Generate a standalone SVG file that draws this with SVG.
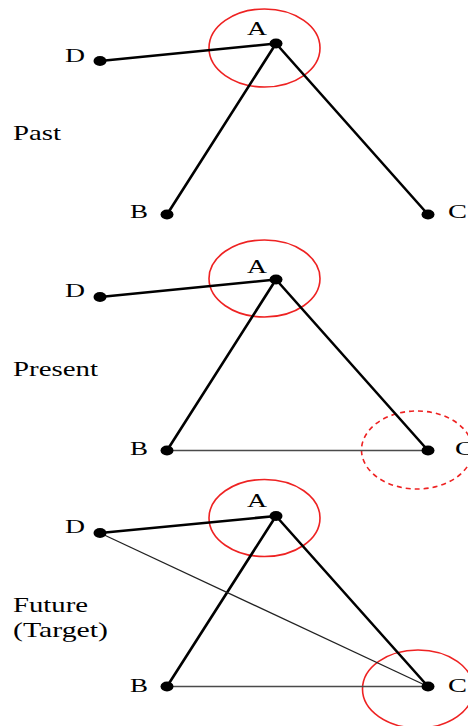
<svg xmlns="http://www.w3.org/2000/svg" width="468" height="726" viewBox="0 0 468 726">
<style>
text{font-family:"Liberation Serif","Times New Roman",serif;fill:#000}
.lbl{font-size:18px}
.side{font-size:21px}
.dot{fill:#000}
.thick{stroke:#000;stroke-width:2.6;fill:none;stroke-linecap:round}
.thin{stroke:#4a4a4a;stroke-width:1.6;fill:none}
.dc{stroke:#222;stroke-width:1.3;fill:none}
.ring{fill:none;stroke:#ee2222;stroke-width:1.6}
.dash{stroke-dasharray:5 4}
</style>
<rect width="468" height="726" fill="#fff"/>
<g id="rings">
<ellipse class="ring" cx="264.5" cy="48" rx="55.5" ry="39"/>
<ellipse class="ring" cx="264.5" cy="278.5" rx="55.5" ry="38.5"/>
<ellipse class="ring dash" cx="417" cy="450" rx="55.5" ry="39"/>
<ellipse class="ring" cx="264.5" cy="518" rx="55.5" ry="38.5"/>
<ellipse class="ring" cx="418" cy="689" rx="55.5" ry="39"/>
</g>
<g id="connectors">
<line class="thick" x1="100" y1="61" x2="276" y2="43.5"/>
<line class="thick" x1="276" y1="43.5" x2="167" y2="214.5"/>
<line class="thick" x1="276" y1="43.5" x2="428" y2="214.5"/>
<line class="thick" x1="100" y1="297" x2="276" y2="279.5"/>
<line class="thick" x1="276" y1="279.5" x2="167" y2="450.5"/>
<line class="thick" x1="276" y1="279.5" x2="428" y2="450.5"/>
<line class="thin" x1="167" y1="450.5" x2="428" y2="450.5"/>
<line class="thick" x1="100" y1="533" x2="276" y2="516"/>
<line class="thick" x1="276" y1="516" x2="167" y2="686.5"/>
<line class="thick" x1="276" y1="516" x2="428" y2="686.5"/>
<line class="thin" x1="167" y1="686.5" x2="428" y2="686.5"/>
<line class="dc" x1="100" y1="533" x2="428" y2="686.5"/>
</g>
<g id="labels">
<text class="side" x="13" y="140" textLength="48" lengthAdjust="spacingAndGlyphs">Past</text>
<text class="side" x="13" y="376" textLength="85" lengthAdjust="spacingAndGlyphs">Present</text>
<text class="side" x="13" y="612" textLength="75" lengthAdjust="spacingAndGlyphs">Future</text>
<text class="side" x="13" y="637" textLength="95" lengthAdjust="spacingAndGlyphs">(Target)</text>
</g>
<g id="past-A"><ellipse class="dot" cx="276" cy="43.5" rx="6.5" ry="5"/><text class="lbl" x="247" y="35" textLength="20" lengthAdjust="spacingAndGlyphs">A</text></g>
<g id="past-B"><ellipse class="dot" cx="167" cy="214.5" rx="6.5" ry="5"/><text class="lbl" x="130" y="218" textLength="18" lengthAdjust="spacingAndGlyphs">B</text></g>
<g id="past-C"><ellipse class="dot" cx="428" cy="214.5" rx="6.5" ry="5"/><text class="lbl" x="448" y="218" textLength="19" lengthAdjust="spacingAndGlyphs">C</text></g>
<g id="past-D"><ellipse class="dot" cx="100" cy="61" rx="6.5" ry="5"/><text class="lbl" x="65" y="62" textLength="20" lengthAdjust="spacingAndGlyphs">D</text></g>
<g id="present-A"><ellipse class="dot" cx="276" cy="279.5" rx="6.5" ry="5"/><text class="lbl" x="247" y="273" textLength="20" lengthAdjust="spacingAndGlyphs">A</text></g>
<g id="present-B"><ellipse class="dot" cx="167" cy="450.5" rx="6.5" ry="5"/><text class="lbl" x="130" y="455" textLength="18" lengthAdjust="spacingAndGlyphs">B</text></g>
<g id="present-C"><ellipse class="dot" cx="428" cy="450.5" rx="6.5" ry="5"/><text class="lbl" x="455" y="455" textLength="19" lengthAdjust="spacingAndGlyphs">C</text></g>
<g id="present-D"><ellipse class="dot" cx="100" cy="297" rx="6.5" ry="5"/><text class="lbl" x="65" y="297" textLength="20" lengthAdjust="spacingAndGlyphs">D</text></g>
<g id="future-A"><ellipse class="dot" cx="276" cy="516" rx="6.5" ry="5"/><text class="lbl" x="247" y="507" textLength="20" lengthAdjust="spacingAndGlyphs">A</text></g>
<g id="future-B"><ellipse class="dot" cx="167" cy="686.5" rx="6.5" ry="5"/><text class="lbl" x="130" y="692" textLength="18" lengthAdjust="spacingAndGlyphs">B</text></g>
<g id="future-C"><ellipse class="dot" cx="428" cy="686.5" rx="6.5" ry="5"/><text class="lbl" x="448" y="692" textLength="19" lengthAdjust="spacingAndGlyphs">C</text></g>
<g id="future-D"><ellipse class="dot" cx="100" cy="533" rx="6.5" ry="5"/><text class="lbl" x="65" y="533" textLength="20" lengthAdjust="spacingAndGlyphs">D</text></g>
</svg>
